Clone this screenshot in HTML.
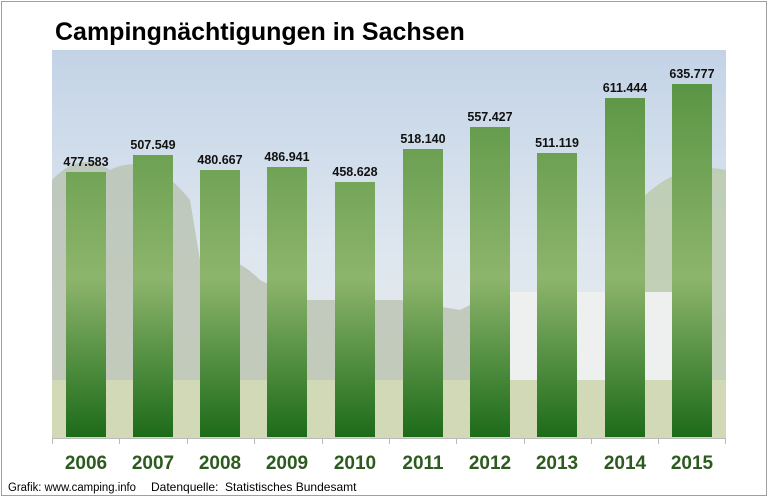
<!DOCTYPE html>
<html><head><meta charset="utf-8"><style>
body{margin:0;background:#fff;}
svg{display:block;font-family:"Liberation Sans",Arial,sans-serif;}
</style></head><body>
<svg width="768" height="497" viewBox="0 0 768 497">
<defs>
<linearGradient id="sky" x1="0" y1="0" x2="0" y2="1">
<stop offset="0" stop-color="#c3d3e6"/><stop offset="0.5" stop-color="#dde6ef"/><stop offset="1" stop-color="#e8ede8"/>
</linearGradient>
<linearGradient id="bar" gradientUnits="userSpaceOnUse" x1="0" y1="84" x2="0" y2="437">
<stop offset="0" stop-color="#5a9544"/><stop offset="0.55" stop-color="#8db56c"/><stop offset="1" stop-color="#1d6b19"/>
</linearGradient>
</defs>
<rect x="1.5" y="1.5" width="765" height="494" fill="#fff" stroke="#a0a0a0"/>
<text x="55" y="40" font-size="25" font-weight="bold" fill="#000">Campingnächtigungen in Sachsen</text>
<rect x="52" y="50" width="674" height="388" fill="url(#sky)"/>
<path d="M52 180 Q80 150 110 170 Q150 150 190 200 L200 260 Q230 250 260 280 L300 300 L400 300 L460 310 L500 290 L520 300 L520 380 L52 380Z" fill="#b9c2b0" opacity="0.8"/>
<path d="M640 200 Q680 160 726 170 L726 380 L640 380Z" fill="#b9c9a8" opacity="0.8"/>
<rect x="510" y="292" width="170" height="110" fill="#eef0f0"/>
<rect x="52" y="380" width="674" height="58" fill="#d2d9b6"/>
<g fill="url(#bar)">
<rect x="66" y="172" width="40" height="265"/>
<rect x="133" y="155" width="40" height="282"/>
<rect x="200" y="170" width="40" height="267"/>
<rect x="267" y="167" width="40" height="270"/>
<rect x="335" y="182" width="40" height="255"/>
<rect x="403" y="149" width="40" height="288"/>
<rect x="470" y="127" width="40" height="310"/>
<rect x="537" y="153" width="40" height="284"/>
<rect x="605" y="98" width="40" height="339"/>
<rect x="672" y="84" width="40" height="353"/>
</g>
<g font-size="12.5" font-weight="bold" text-anchor="middle" fill="#111">
<text x="86" y="166">477.583</text><text x="153" y="149">507.549</text>
<text x="220" y="164">480.667</text><text x="287" y="161">486.941</text>
<text x="355" y="176">458.628</text><text x="423" y="143">518.140</text>
<text x="490" y="121">557.427</text><text x="557" y="147">511.119</text>
<text x="625" y="92">611.444</text><text x="692" y="78">635.777</text>
</g>
<g stroke="#bbb" stroke-width="1">
<line x1="52" y1="438.5" x2="726" y2="438.5"/>
<line x1="52.5" y1="438" x2="52.5" y2="444"/><line x1="119.5" y1="438" x2="119.5" y2="444"/>
<line x1="187.5" y1="438" x2="187.5" y2="444"/><line x1="254.5" y1="438" x2="254.5" y2="444"/>
<line x1="322.5" y1="438" x2="322.5" y2="444"/><line x1="389.5" y1="438" x2="389.5" y2="444"/>
<line x1="456.5" y1="438" x2="456.5" y2="444"/><line x1="524.5" y1="438" x2="524.5" y2="444"/>
<line x1="591.5" y1="438" x2="591.5" y2="444"/><line x1="658.5" y1="438" x2="658.5" y2="444"/>
<line x1="725.5" y1="438" x2="725.5" y2="444"/>
</g>
<g font-size="19" font-weight="bold" text-anchor="middle" fill="#2d5a1e">
<text x="86" y="469">2006</text><text x="153" y="469">2007</text><text x="220" y="469">2008</text>
<text x="287" y="469">2009</text><text x="355" y="469">2010</text><text x="423" y="469">2011</text>
<text x="490" y="469">2012</text><text x="557" y="469">2013</text><text x="625" y="469">2014</text>
<text x="692" y="469">2015</text>
</g>
<text x="8" y="491" font-size="11.5" fill="#000" textLength="128" lengthAdjust="spacingAndGlyphs">Grafik: www.camping.info</text>
<text x="151" y="491" font-size="12" fill="#000" xml:space="preserve">Datenquelle:  Statistisches Bundesamt</text>
</svg>
</body></html>
